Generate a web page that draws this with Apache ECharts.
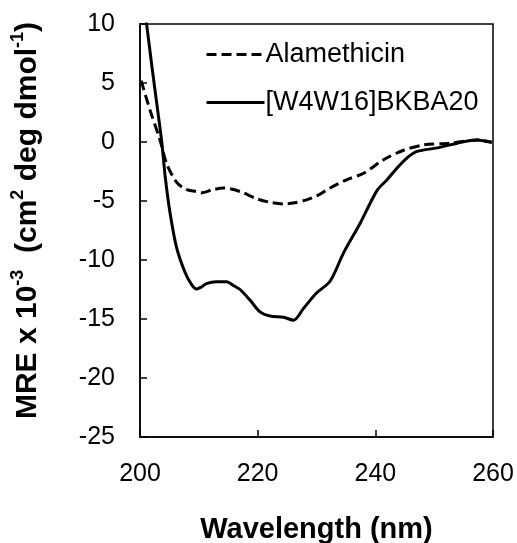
<!DOCTYPE html>
<html><head><meta charset="utf-8">
<script src="https://cdn.jsdelivr.net/npm/echarts@6/dist/echarts.min.js"></script>
<style>html,body{margin:0;padding:0;background:#fff}#c{width:517px;height:543px}</style>
</head><body><div id="c"></div>
<script>
const seriesNames = ['Alamethicin', '[W4W16]BKBA20'];
const alaWl = [200.2,201.7,203.4,204.5,206.2,207.8,209.6,210.5,212.3,214.2,217.0,219.8,222.0,224.4,226.3,228.3,230.3,232.3,235.1,238.0,241.4,244.8,248.2,252.7,257.3,259.8];
const alaMre = [5.2,2.7,0.17,-1.8,-3.4,-4.0,-4.2,-4.3,-4.05,-3.9,-4.2,-4.8,-5.1,-5.25,-5.15,-4.9,-4.5,-3.9,-3.2,-2.65,-1.5,-0.7,-0.25,-0.1,0.17,0.0];
const bkbWl = [200.5,202.0,203.0,203.7,204.3,205.1,206.2,207.7,208.8,209.6,210.4,211.3,213.0,214.7,216.0,217.0,218.7,220.4,222.1,224.4,226.1,227.8,230.0,232.3,234.6,237.4,240.3,242.0,243.7,245.5,247.1,250.5,253.9,257.3,259.8];
const bkbMre = [12.5,6.5,2.7,0.0,-3.0,-6.0,-8.9,-11.1,-12.1,-12.45,-12.3,-12.0,-11.85,-11.85,-12.2,-12.5,-13.4,-14.4,-14.75,-14.86,-15.1,-14.1,-12.8,-11.8,-9.4,-6.9,-4.1,-3.2,-2.2,-1.3,-0.8,-0.5,-0.1,0.17,-0.05];
const xTicks = [200,220,240,260];
const yTicks = [-25,-20,-15,-10,-5,0,5,10];

const pairs = (xs, ys) => xs.map((x, i) => [x, ys[i]]);
const font = 'Liberation Sans, Arial, sans-serif';
const chart = echarts.init(document.getElementById('c'), null, {renderer: 'canvas'});
chart.setOption({
  animation: false,
  backgroundColor: '#fff',
  grid: {left: 140, right: 24, top: 24, bottom: 106, outerBoundsMode: 'none', containLabel: false,
         show: true, borderColor: '#000', borderWidth: 1.5, backgroundColor: 'transparent'},
  legend: {
    orient: 'vertical', left: 200, top: 36, itemGap: 21, itemWidth: 58, itemHeight: 14,
    itemStyle: {opacity: 0, borderWidth: 0},
    lineStyle: {width: 3},
    textStyle: {fontFamily: font, fontSize: 27, color: '#000', padding: [0,0,0,-4]},
    data: seriesNames
  },
  xAxis: {
    type: 'value', min: xTicks[0], max: xTicks[xTicks.length-1], interval: 20,
    name: 'Wavelength (nm)', nameLocation: 'middle', nameGap: 78,
    nameTextStyle: {fontFamily: font, fontSize: 29, fontWeight: 'bold', color: '#000'},
    axisLine: {onZero: false, lineStyle: {color: '#000', width: 1.5}},
    axisTick: {inside: true, length: 7, lineStyle: {color: '#000', width: 1.5}},
    axisLabel: {fontFamily: font, fontSize: 25, color: '#000', margin: 25},
    splitLine: {show: false}
  },
  yAxis: {
    type: 'value', min: yTicks[0], max: yTicks[yTicks.length-1], interval: 5,
    name: '{b|MRE x 10}{s|-3}{b|  (cm}{s|2}{b| deg dmol}{s|-1}{b|)}',
    nameLocation: 'middle', nameGap: 97, nameRotate: 90,
    nameTextStyle: {
      padding: [0, 0, 0, 20],
      rich: {
        b: {fontFamily: font, fontSize: 30, fontWeight: 'bold', color: '#000', lineHeight: 34, verticalAlign: 'bottom'},
        s: {fontFamily: font, fontSize: 18, fontWeight: 'bold', color: '#000', lineHeight: 34, verticalAlign: 'top', padding: [0,0,12,0]}
      }
    },
    axisLine: {onZero: false, lineStyle: {color: '#000', width: 1.5}},
    axisTick: {inside: true, length: 7, lineStyle: {color: '#000', width: 1.5}},
    axisLabel: {fontFamily: font, fontSize: 25, color: '#000', margin: 25},
    splitLine: {show: false}
  },
  series: [
    {name: seriesNames[0], type: 'line', data: pairs(alaWl, alaMre), symbol: 'none', smooth: 0.3,
     lineStyle: {color: '#000', width: 3, type: [10, 5]}, itemStyle: {color: '#000'}},
    {name: seriesNames[1], type: 'line', data: pairs(bkbWl, bkbMre), symbol: 'none', smooth: 0.3,
     lineStyle: {color: '#000', width: 3, type: 'solid'}, itemStyle: {color: '#000'}}
  ]
});
</script></body></html>
